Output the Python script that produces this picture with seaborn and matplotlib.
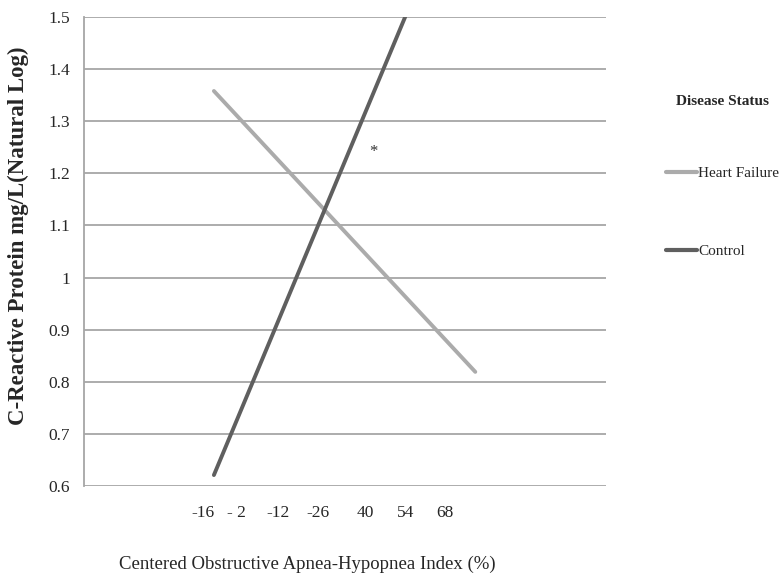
import matplotlib
matplotlib.use("Agg")
import matplotlib.pyplot as plt
import seaborn as sns
import pandas as pd
from matplotlib.lines import Line2D

# ---- data ----
status = ["Heart Failure", "Heart Failure", "Control", "Control"]
x_pos = [3.24, 9.76, 3.24, 8.01]          # horizontal position on the chart
crp = [1.358, 0.819, 0.621, 1.5]          # C-reactive protein (natural log)
tick_pos = [2.96, 3.81, 4.83, 5.83, 7.01, 8.01, 9.0]
tick_labels = ["-16", "- 2", "-12", "-26", "40", "54", "68"]
y_ticks = [0.6, 0.7, 0.8, 0.9, 1.0, 1.1, 1.2, 1.3, 1.4, 1.5]
y_tick_labels = ["0.6", "0.7", "0.8", "0.9", "1", "1.1", "1.2", "1.3", "1.4", "1.5"]
star_x, star_y = 7.21, 1.24
colors = {"Heart Failure": "#ababab", "Control": "#5f5f5f"}

df = pd.DataFrame({"status": status, "x": x_pos, "crp": crp})

sns.set_theme(style="white")
plt.rcParams["font.family"] = ["Liberation Serif", "DejaVu Serif"]

fig = plt.figure(figsize=(7.8, 5.85), dpi=100)
ax = fig.add_axes([84 / 780, 1 - 486 / 585, (606 - 84) / 780, (486 - 17) / 585])

sns.lineplot(data=df, x="x", y="crp", hue="status", palette=colors,
             hue_order=["Heart Failure", "Control"], linewidth=2.8,
             legend=False, ax=ax, sort=False, estimator=None, units="status")

ax.text(star_x, star_y, "*", ha="center", va="center", fontsize=12, color="#333333")

ax.set_xlim(0, 13.02)
ax.set_ylim(0.6, 1.5)
ax.set_yticks(y_ticks, y_tick_labels, fontsize=12.5)
ax.set_xticks(tick_pos, tick_labels, fontsize=12.5)
ax.tick_params(axis="both", length=0)
ax.tick_params(axis="y", pad=10)
ax.tick_params(axis="x", pad=14)
ax.yaxis.grid(True, color="#a6a6a6", linewidth=1.3)
ax.xaxis.grid(False)
ax.set_axisbelow(True)
for s in ["top", "right", "bottom"]:
    ax.spines[s].set_visible(False)
ax.spines["left"].set_color("#a6a6a6")
ax.spines["left"].set_linewidth(1.3)

ax.set_xlabel("Centered Obstructive Apnea-Hypopnea Index (%)", fontsize=13.5, labelpad=24)
ax.xaxis.set_label_coords((307 - 84) / (606 - 84), -(565 - 486) / (486 - 17) + 0.02)
ax.set_ylabel("C-Reactive Protein mg/L(Natural Log)", fontsize=16.5, fontweight="bold")
ax.yaxis.set_label_coords(-(84 - 29) / (606 - 84), (486 - 236) / (486 - 17))

handles = [Line2D([0], [0], color=colors[k], linewidth=3) for k in ["Heart Failure", "Control"]]
leg = fig.legend(handles, ["Heart Failure", "Control"], title="Disease Status",
                 loc="upper left", bbox_to_anchor=(666 / 780, 1 - 95 / 585),
                 frameon=False, fontsize=11, title_fontsize=11,
                 labelspacing=4.2, handlelength=2.0, handletextpad=0.1,
                 borderaxespad=0, borderpad=0)
leg.get_title().set_fontweight("bold")
leg._legend_box.sep = 42

fig.savefig("out.png", dpi=100)
